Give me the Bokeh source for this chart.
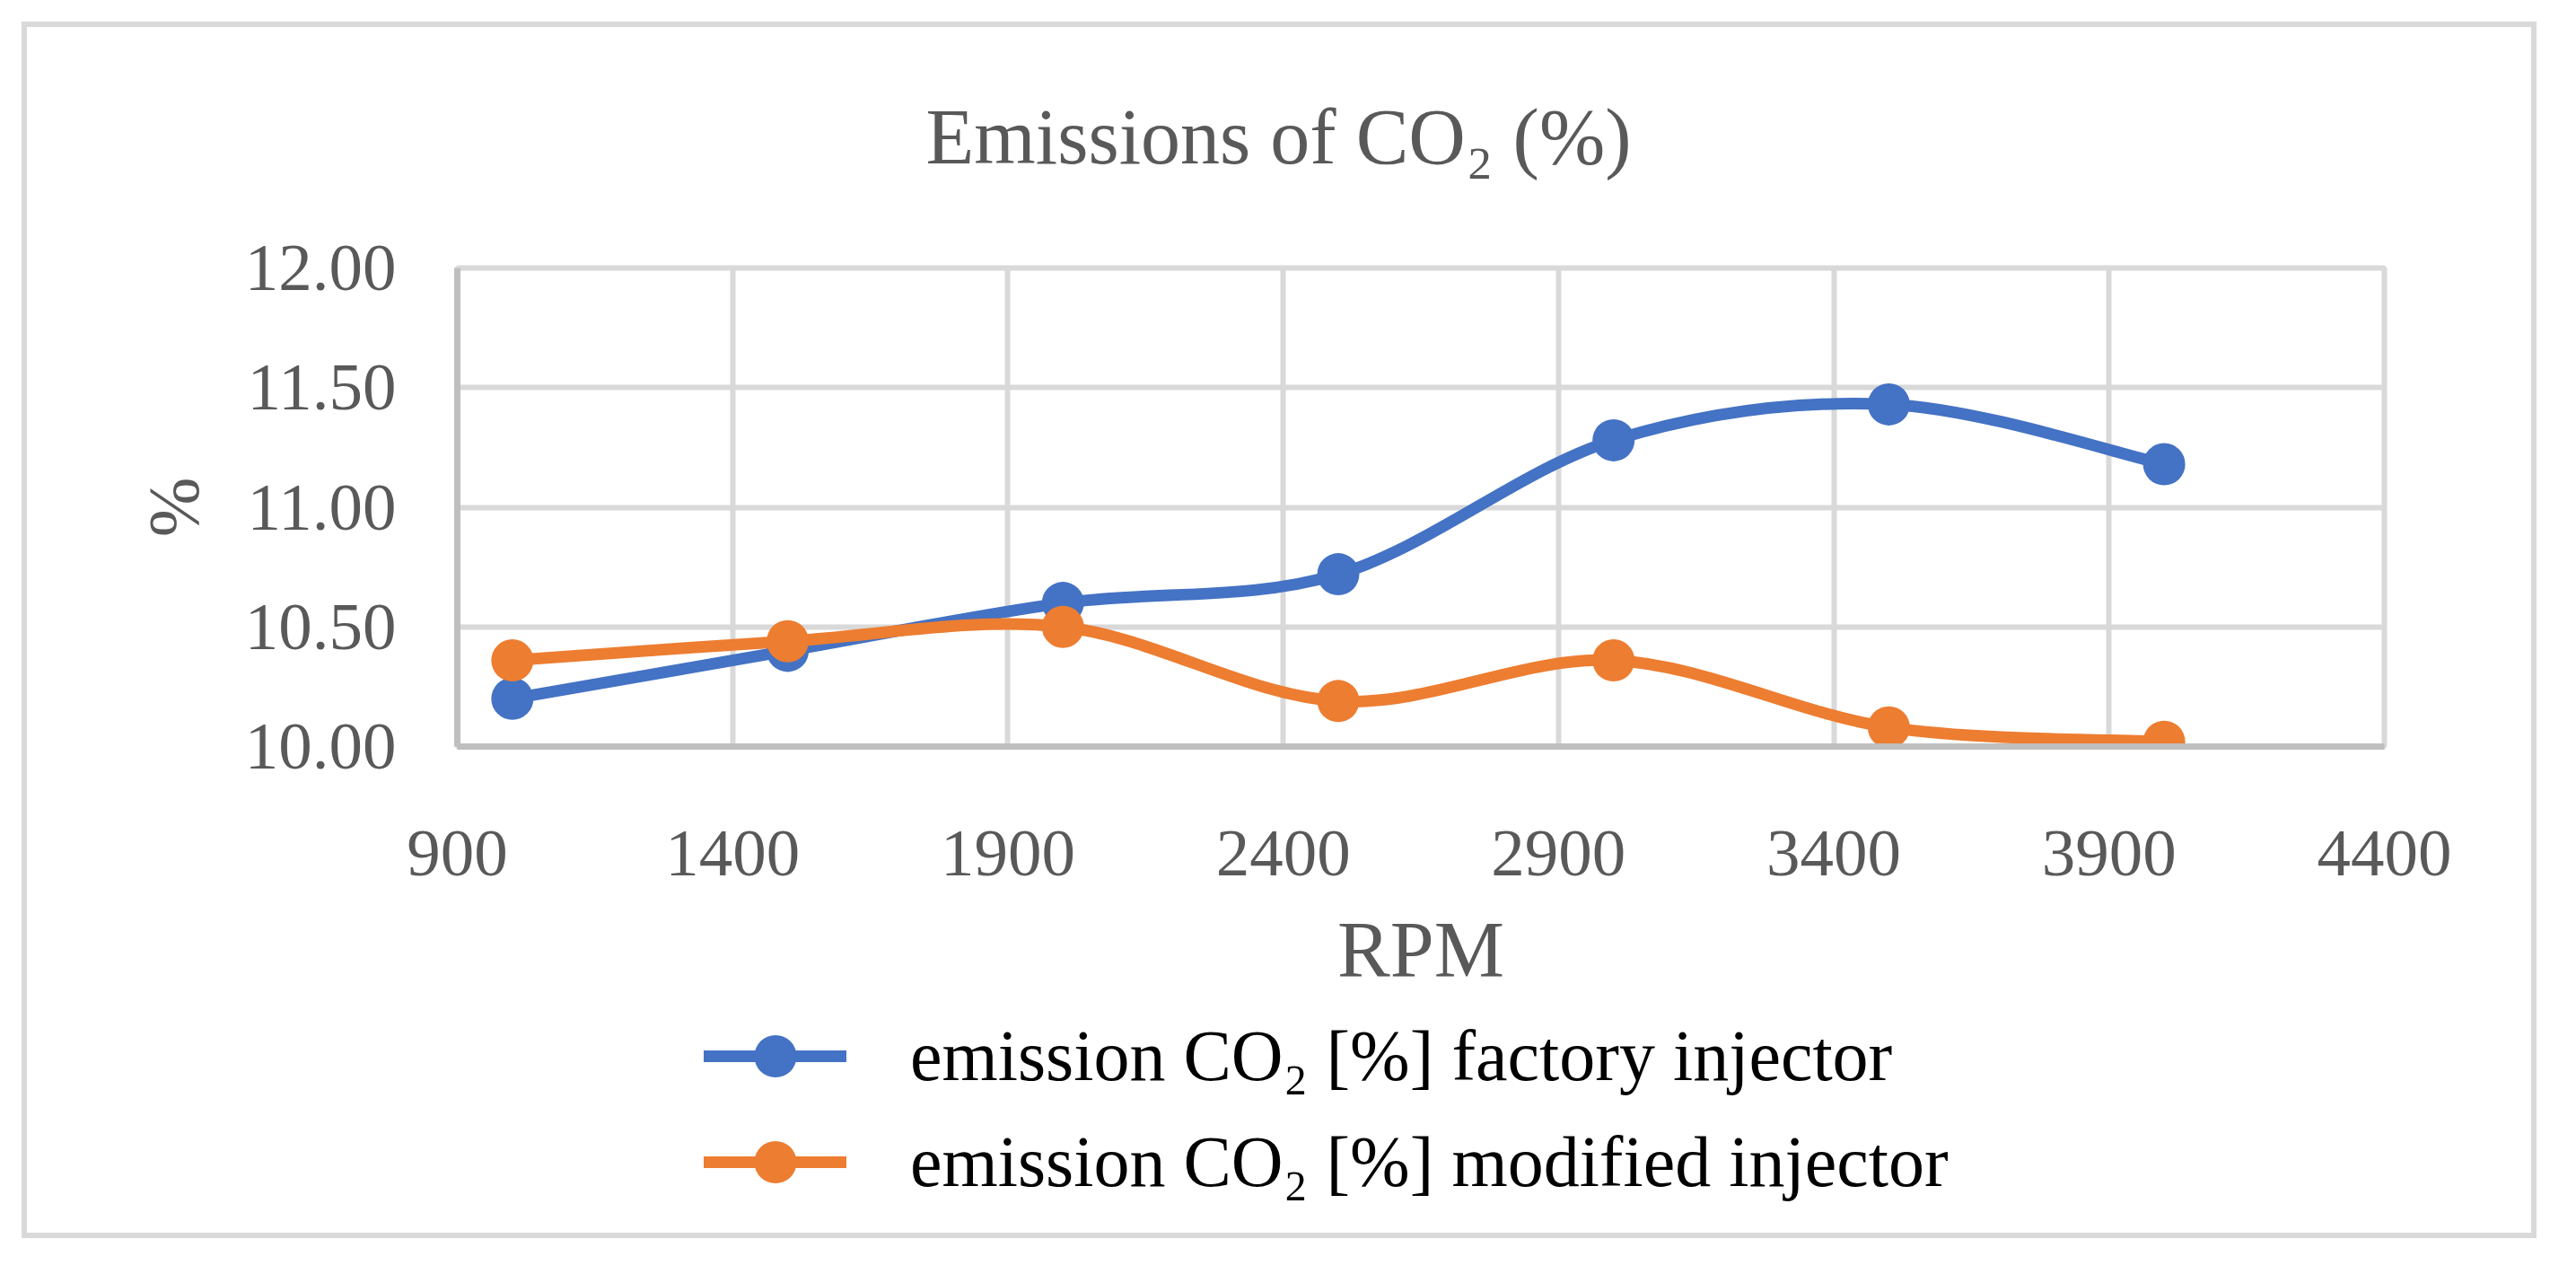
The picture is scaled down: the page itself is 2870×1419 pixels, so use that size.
from bokeh.plotting import figure
from bokeh.layouts import column
from bokeh.models import (Range1d, FixedTicker, PrintfTickFormatter, Legend,
                          LegendItem, Title)
from bokeh.embed import file_html
from bokeh.resources import INLINE

# ---- data ----
rpm = [1000, 1500, 2000, 2500, 3000, 3500, 4000]
factory = [10.20, 10.40, 10.60, 10.72, 11.28, 11.43, 11.18]
modified = [10.36, 10.44, 10.50, 10.19, 10.36, 10.08, 10.02]
x_ticks = [900, 1400, 1900, 2400, 2900, 3400, 3900, 4400]
y_ticks = [10.0, 10.5, 11.0, 11.5, 12.0]
title_text = "Emissions of CO\u2082 (%)"
x_label = "RPM"
y_label = "%"
series_labels = ["emission CO\u2082 [%] factory injector",
                 "emission CO\u2082 [%] modified injector"]
colors = ["#4472C4", "#ED7D31"]

FONT = "Liberation Serif"
GREY = "#595959"

W = 2850
HA, HB = 1120, 283

# ---------------- chart figure ----------------
p = figure(width=W, height=HA, output_backend="svg", toolbar_location=None,
           x_range=Range1d(900, 4400), y_range=Range1d(10, 12),
           min_border_left=509, min_border_right=194,
           min_border_top=298, min_border_bottom=HA - 831)
p.background_fill_color = None
p.border_fill_color = None
p.outline_line_color = "#D9D9D9"
p.outline_line_width = 6

p.title = Title(text=title_text, align="left", offset=522, standoff=195,
                text_font=FONT, text_font_size="88px", text_color=GREY,
                text_font_style="normal")

for ax in (p.xaxis[0], p.yaxis[0]):
    ax.major_tick_line_color = None
    ax.minor_tick_line_color = None
    ax.axis_line_color = "#BFBFBF"
    ax.axis_line_width = 7
    ax.major_label_text_font = FONT
    ax.major_label_text_font_size = "75px"
    ax.major_label_text_color = GREY
    ax.axis_label_text_font = FONT
    ax.axis_label_text_color = GREY
    ax.axis_label_text_font_style = "normal"
p.xaxis[0].ticker = FixedTicker(ticks=x_ticks)
p.yaxis[0].ticker = FixedTicker(ticks=y_ticks)
p.yaxis[0].formatter = PrintfTickFormatter(format="%.2f")
p.xaxis[0].major_label_standoff = 88
p.yaxis[0].major_label_standoff = 62
p.xaxis[0].axis_label = x_label
p.xaxis[0].axis_label_text_font_size = "88px"
p.xaxis[0].axis_label_standoff = 31
p.yaxis[0].axis_label = y_label
p.yaxis[0].axis_label_text_font_size = "80px"
p.yaxis[0].axis_label_standoff = 32

for g in (p.xgrid[0], p.ygrid[0]):
    g.grid_line_color = "#D9D9D9"
    g.grid_line_width = 6
p.xgrid[0].ticker = FixedTicker(ticks=x_ticks)
p.ygrid[0].ticker = FixedTicker(ticks=y_ticks)


def smooth_segments(xs, ys):
    n = len(xs)
    out = {k: [] for k in ("x0", "y0", "x1", "y1", "cx0", "cy0", "cx1", "cy1")}
    for i in range(n - 1):
        xm, ym = xs[max(i - 1, 0)], ys[max(i - 1, 0)]
        xp, yp = xs[min(i + 2, n - 1)], ys[min(i + 2, n - 1)]
        out["x0"].append(xs[i]); out["y0"].append(ys[i])
        out["x1"].append(xs[i + 1]); out["y1"].append(ys[i + 1])
        out["cx0"].append(xs[i] + (xs[i + 1] - xm) / 6.0)
        out["cy0"].append(ys[i] + (ys[i + 1] - ym) / 6.0)
        out["cx1"].append(xs[i + 1] - (xp - xs[i]) / 6.0)
        out["cy1"].append(ys[i + 1] - (yp - ys[i]) / 6.0)
    return out


series = [factory, modified]
for vals, col in zip(series, colors):
    seg = smooth_segments(rpm, vals)
    p.bezier(line_color=col, line_width=13, line_cap="round", **seg)
    p.scatter(x=rpm, y=vals, size=47, marker="circle",
              fill_color=col, line_color=col, line_width=0)

# ---------------- legend figure ----------------
q = figure(width=W, height=HB, output_backend="svg", toolbar_location=None,
           x_range=Range1d(0, 1), y_range=Range1d(0, 1),
           x_axis_type=None, y_axis_type=None, min_border=0)
q.background_fill_color = None
q.border_fill_color = None
q.outline_line_color = None
q.grid.visible = False

items = []
for vals, col, lab in zip(series, colors, series_labels):
    # same series drawn in the legend strip; its ranges keep the marks out of view
    lr = q.line(x=rpm, y=vals, line_color=col, line_width=13, line_cap="round")
    sc = q.scatter(x=rpm, y=vals, size=47, marker="circle",
                   fill_color=col, line_color=col, line_width=0)
    items.append(LegendItem(label=lab, renderers=[lr, sc]))

legend = Legend(items=items, location=(275, 59), orientation="vertical",
                glyph_width=159, glyph_height=109, spacing=0, padding=0, margin=0,
                label_standoff=71, label_text_font=FONT, label_text_font_size="80px",
                label_text_color="#000000", border_line_color=None,
                background_fill_alpha=0)
try:
    legend.spacing = -9
    legend.glyph_height = 118
    legend.location = (275, 50)
except Exception:
    legend.spacing = 0
    legend.glyph_height = 109
    legend.location = (275, 59)
q.add_layout(legend, "center")

page = column(p, q, spacing=0,
              styles={"box-shadow": "inset 0 0 0 24px #ffffff, inset 0 0 0 30px #D9D9D9"})

open("out.html", "w").write(file_html(page, INLINE))
